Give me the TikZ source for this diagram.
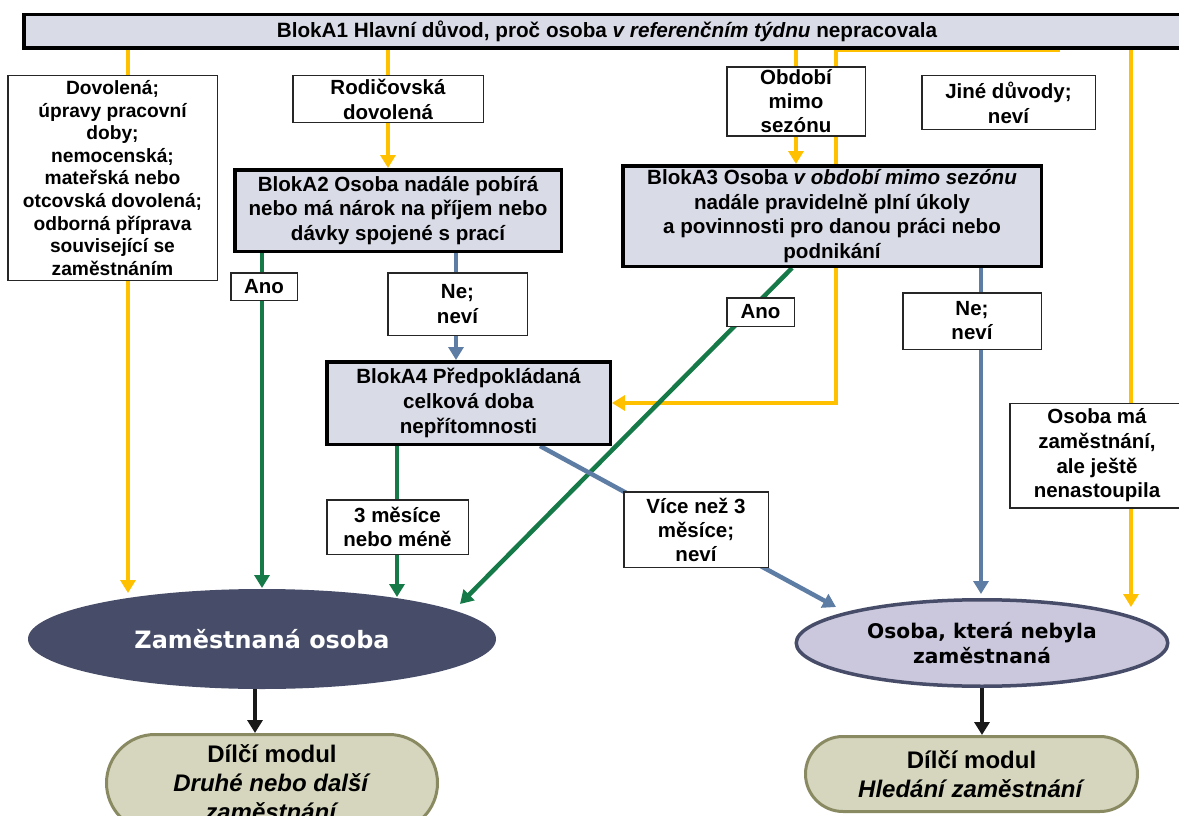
\documentclass[tikz,border=0pt]{standalone}
\usepackage{fontspec}
\setmainfont{Liberation Sans}
\newfontfamily\dejavu{DejaVu Sans}
\usetikzlibrary{arrows.meta,shapes.geometric,shapes.misc}
\pgfdeclarelayer{back}\pgfdeclarelayer{lines}
\pgfsetlayers{back,lines,main}
\definecolor{yel}{HTML}{FFC000}
\definecolor{grn}{HTML}{167A48}
\definecolor{blu}{HTML}{5E7DA5}
\definecolor{boxfill}{HTML}{D9DCE7}
\definecolor{darkel}{HTML}{474D68}
\definecolor{lav}{HTML}{CBC8DD}
\definecolor{olivefill}{HTML}{D6D6BE}
\definecolor{olivedraw}{HTML}{8A8A62}
\tikzset{
  txt/.style={font=\bfseries\fontsize{20.5}{24}\selectfont},
  lbl/.style={draw=black!85, line width=1.5pt, fill=white, align=center, inner sep=0pt, txt},
  blok/.style={draw=black, line width=3.5pt, fill=boxfill, align=center, inner sep=0pt, txt},
  modbox/.style={rounded rectangle, draw=olivedraw, line width=3pt, fill=olivefill, align=center, inner sep=0pt, font=\bfseries\fontsize{24}{29}\selectfont},
  yl/.style={draw=yel, line width=4.5pt},
  gr/.style={draw=grn, line width=4.5pt},
  bl/.style={draw=blu, line width=4.5pt},
  bk/.style={draw=black!90, line width=3.5pt},
  tip/.style={-{Triangle[length=13pt,width=15pt]}}
}
\begin{document}
\begin{tikzpicture}[x=1pt,y=-1pt]
\begin{pgfonlayer}{back}
\fill[white] (0,0) rectangle (1179,816);
\end{pgfonlayer}
\useasboundingbox (0,0) rectangle (1179,816);

% top bar
\node[blok, minimum width=1166pt, minimum height=33.5pt] (bar) at (607,31.5) {};
\node[txt, font=\bfseries\fontsize{20.7}{24}\selectfont] (bartxt) at (607,31) {BlokA1 Hlavní důvod, proč osoba \textit{v referenčním týdnu} nepracovala};

% label boxes row 1
\node[lbl, minimum width=209.5pt, minimum height=204.5pt, font=\bfseries\fontsize{19.2}{22.6}\selectfont] (b1) at (112.5,178)
  {Dovolená;\\úpravy pracovní\\doby;\\nemocenská;\\mateřská nebo\\otcovská dovolená;\\odborná příprava\\související se\\zaměstnáním};
\node[lbl, minimum width=190.5pt, minimum height=46.5pt, font=\bfseries\fontsize{20.5}{25}\selectfont] (rod) at (388,99) {Rodičovská\\dovolená};
\node[lbl, minimum width=138.5pt, minimum height=68.5pt] (obd) at (796,101.5) {Období\\mimo\\sezónu};
\node[lbl, minimum width=173.5pt, minimum height=53.5pt, font=\bfseries\fontsize{20.5}{25}\selectfont] (jine) at (1008.5,102.5) {Jiné důvody;\\neví};

% blocks
\node[blok, minimum width=326.5pt, minimum height=81.5pt, font=\bfseries\fontsize{20.6}{24.5}\selectfont] (a2) at (398,210.5)
  {BlokA2 Osoba nadále pobírá\\nebo má nárok na příjem nebo\\dávky spojené s prací};
\node[blok, minimum width=418.5pt, minimum height=100.5pt, font=\bfseries\fontsize{20.6}{24.7}\selectfont] (a3) at (832,216)
  {BlokA3 Osoba \textit{v období mimo sezónu}\\nadále pravidelně plní úkoly\\a povinnosti pro danou práci nebo\\podnikání};
\node[blok, minimum width=283.5pt, minimum height=82.5pt, font=\bfseries\fontsize{20.6}{25}\selectfont] (a4) at (468.5,403)
  {BlokA4 Předpokládaná\\celková doba\\nepřítomnosti};

% answer labels
\node[lbl, minimum width=66.5pt, minimum height=27.5pt] (ano1) at (264,286.5) {Ano};
\node[lbl, minimum width=139.5pt, minimum height=62.5pt, font=\bfseries\fontsize{20.5}{25}\selectfont] (ne1) at (457.5,304) {Ne;\\neví};
\node[lbl, minimum width=67.5pt, minimum height=28.5pt] (ano2) at (760.5,312) {Ano};
\node[lbl, minimum width=138.5pt, minimum height=56.5pt] (ne2) at (972,321) {Ne;\\neví};
\node[lbl, minimum width=141.5pt, minimum height=54.5pt] (m3) at (397.5,527) {3 měsíce\\nebo méně};
\node[lbl, minimum width=144.5pt, minimum height=75.5pt] (vice) at (696,529.5) {Více než 3\\měsíce;\\neví};
\node[lbl, minimum width=174.5pt, minimum height=104.5pt, font=\bfseries\fontsize{20.5}{24.7}\selectfont] (osm) at (1097,455.5) {Osoba má\\zaměstnání,\\ale ještě\\nenastoupila};

% outcomes
\node[ellipse, fill=darkel, minimum width=468pt, minimum height=100pt, inner sep=0pt, text=white, font=\dejavu\bfseries\fontsize{23.9}{28}\selectfont] (zam) at (262,639) {Zaměstnaná osoba};
\node[ellipse, draw=darkel, line width=3.5pt, fill=lav, minimum width=371.5pt, minimum height=86.5pt, inner sep=0pt, align=center, font=\dejavu\bfseries\fontsize{20.2}{25}\selectfont] (nez) at (982,643) {Osoba, která nebyla\\zaměstnaná};
\node[modbox, minimum width=331pt, minimum height=97pt] (mod1) at (272,783) {Dílčí modul\\\textit{Druhé nebo další}\\\textit{zaměstnání}};
\node[modbox, minimum width=332pt, minimum height=75pt] (mod2) at (971.5,774) {Dílčí modul\\\textit{Hledání zaměstnání}};

% helper coordinates
\coordinate (x128) at (128,0);
\coordinate (x262) at (262,0);
\coordinate (x397) at (397,0);
\coordinate (x456) at (456,0);
\coordinate (x540) at (540,0);
\coordinate (x792) at (792,0);
\coordinate (x836) at (836,0);
\coordinate (x981) at (981,0);
\coordinate (x1060) at (1060,0);
\coordinate (x1131) at (1131,0);
\coordinate (x255) at (255,0);
\coordinate (t1) at (128,593);
\coordinate (t2) at (262,588);
\coordinate (t3) at (397,597);
\coordinate (t4) at (460,604);
\coordinate (t5) at (836,607);
\coordinate (t6) at (981,594);
\coordinate (t7) at (1131,607);

\begin{pgfonlayer}{lines}
% yellow
\draw[yl,tip] (x128 |- bar.center) -- (t1);
\draw[yl] (rod.north |- bar.center) -- (rod.north);
\draw[yl,tip] (rod.south) -- (rod.south |- a2.north);
\draw[yl] (obd.north |- bar.center) -- (obd.north);
\draw[yl,tip] (obd.south) -- (obd.south |- a3.north);
\draw[yl,tip] (x836 |- bar.center) -- (x836 |- a4.east) -- (a4.east);
\draw[yl, line width=3pt] ([yshift=-1pt]x836 |- bar.south) -- ([yshift=-1pt]x1060 |- bar.south);
\draw[yl,tip] (x1131 |- bar.center) -- (t7);
% green
\draw[gr,tip] (x262 |- a2.center) -- (t2);
\draw[gr,tip] (x397 |- a4.center) -- (t3);
\draw[gr,tip] (x792 |- a3.south) -- (t4);
% blue
\draw[bl,tip] (x456 |- a2.center) -- (x456 |- a4.north);
\draw[bl,tip] (x540 |- a4.south) -- (t5);
\draw[bl,tip] (x981 |- a3.center) -- (t6);
% black
\draw[bk,tip] (x255 |- zam.south) -- (x255 |- mod1.north);
\draw[bk,tip] (nez.south) -- (nez.south |- mod2.north);
\end{pgfonlayer}
\end{tikzpicture}
\end{document}
